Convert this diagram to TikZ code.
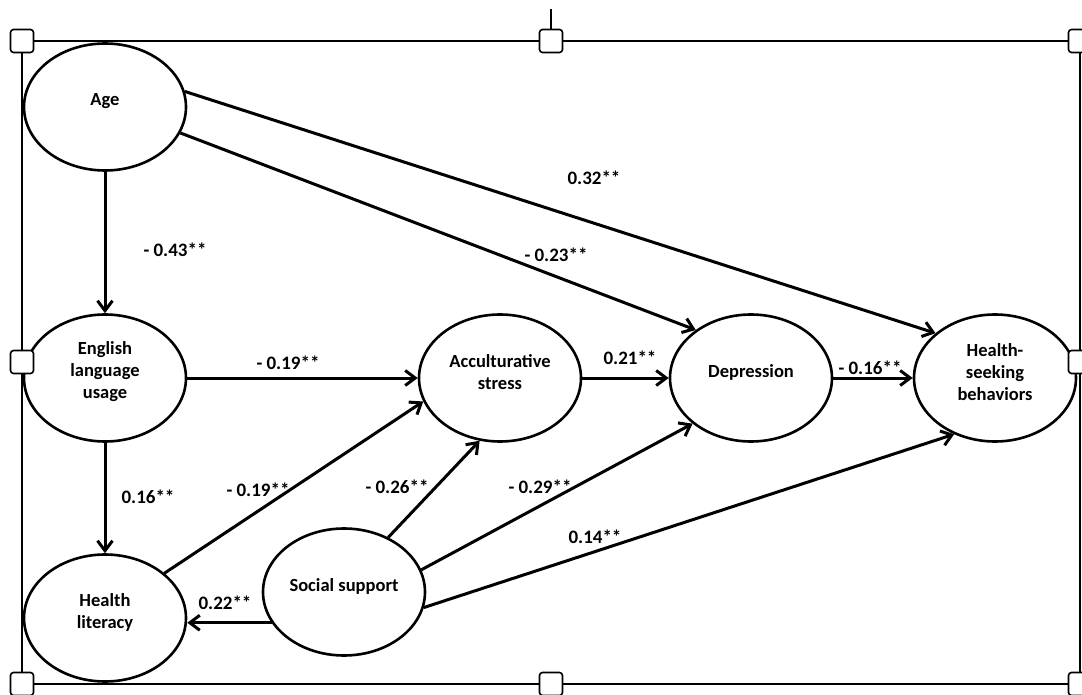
\documentclass[tikz,border=0pt]{standalone}
\usepackage{fontspec}
\setmainfont{Carlito}
\usetikzlibrary{arrows.meta,shapes.geometric}

\begin{document}
\begin{tikzpicture}[x=1pt,y=-1pt]
% ----- columns (x) & rows (y) -----
\def\xLeft{105}
\def\xSoc{344}
\def\xAcc{500}
\def\xDep{751}
\def\xHsb{995}

\def\yAge{107}
\def\yMid{378}
\def\ySoc{592}
\def\yLit{618}

% frame edges
\def\xL{22}
\def\xC{551}
\def\xR{1080}
\def\yT{41}
\def\yC{362}
\def\yB{684}

% styles
\tikzset{
  var/.style={draw,ellipse,line width=2.6pt,fill=white,minimum width=162pt,minimum height=127pt,inner sep=0pt},
  txt/.style={font=\bfseries\fontsize{18.5}{22}\selectfont,align=center,yshift=6pt},
  eff/.style={-{Straight Barb[length=10pt,width=15pt]},line width=3pt},
  coef/.style={font=\bfseries\fontsize{19}{22}\selectfont,inner sep=1pt},
  frame/.style={line width=1.6pt},
  handle/.style={draw,line width=1.6pt,fill=white,rounded corners=3pt,minimum size=23pt,inner sep=0pt}
}

\useasboundingbox (0,0) rectangle (1082,695);

% ----- selection frame -----
\draw[frame] (\xL,\yT) rectangle (\xR,\yB);

% ===== variables =====
\node[var,label={[txt]center:Age}] (age) at (\xLeft,\yAge) {};
\node[var,label={[txt]center:{English\\language\\usage}}] (eng) at (\xLeft,\yMid) {};
\node[var,label={[txt]center:{Health\\literacy}}] (lit) at (\xLeft,\yLit) {};
\node[var,label={[txt]center:Social support}] (soc) at (\xSoc,\ySoc) {};
\node[var,label={[txt]center:{Acculturative\\stress}}] (acc) at (\xAcc,\yMid) {};
\node[var,label={[txt]center:Depression}] (dep) at (\xDep,\yMid) {};
\node[var,label={[txt]center:{Health-\\seeking\\behaviors}}] (hsb) at (\xHsb,\yMid) {};

% ===== paths =====
\draw[eff] (age) -- (eng);
\draw[eff] (age.-19) -- (dep.139);
\draw[eff] (age.11) -- (hsb.143);
\draw[eff] (eng) -- (acc);
\draw[eff] (eng) -- (lit);
\draw[eff] (lit.37) -- (acc.197);
\draw[eff] (acc) -- (dep);
\draw[eff] (dep) -- (hsb);
\draw[eff] (soc.51) -- (acc.252);
\draw[eff] (soc.16) -- (dep.218);
\draw[eff] (soc.-11) -- (hsb.234);
\draw[eff] (soc.203) -- (soc.203 -| lit.east);

% ----- coefficients -----
\node[coef] (cAgeEng) at (175,250) {- 0.43**};
\node[coef] (cAgeHsb) at (594,178) {0.32**};
\node[coef] (cAgeDep) at (556,255) {- 0.23**};
\node[coef] (cEngAcc) at (288,363) {- 0.19**};
\node[coef] (cAccDep) at (630,358) {0.21**};
\node[coef] (cDepHsb) at (870,368) {- 0.16**};
\node[coef] (cEngLit) at (148,497) {0.16**};
\node[coef] (cLitAcc) at (258,490) {- 0.19**};
\node[coef] (cSocAcc) at (397,487) {- 0.26**};
\node[coef] (cSocLit) at (225,603) {0.22**};
\node[coef] (cSocDep) at (540,487) {- 0.29**};
\node[coef] (cSocHsb) at (595,537) {0.14**};

% ----- handles -----
\foreach \hx/\hy [count=\k] in {\xL/\yT,\xC/\yT,\xR/\yT,\xL/\yC,\xR/\yC,\xL/\yB,\xC/\yB,\xR/\yB}
  \node[handle] (hd\k) at (\hx,\hy) {};
\draw[frame] (hd2.north) -- ++(0,-20);
\end{tikzpicture}
\end{document}
